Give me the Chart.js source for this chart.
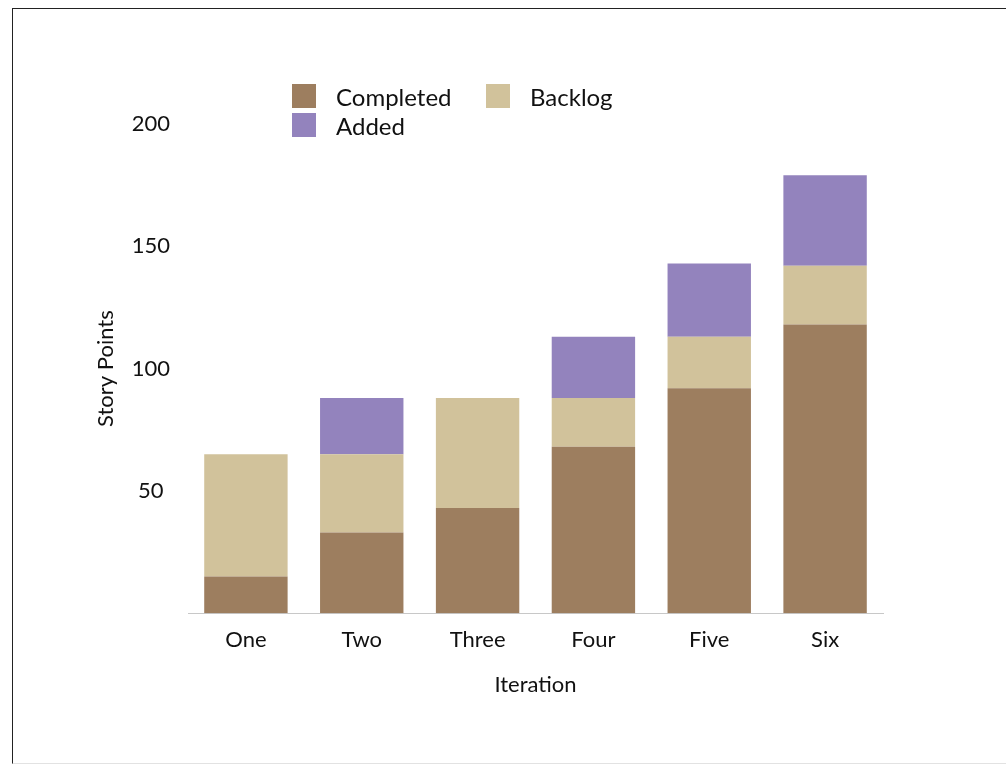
<!DOCTYPE html>
<html>
<head>
<meta charset="utf-8">
<script src="https://cdn.jsdelivr.net/npm/chart.js@4"></script>
<style>
  body { margin: 0; background: #fff; font-family: Lato, sans-serif; }
  #wrap { position: relative; width: 1006px; height: 765px; overflow: hidden; }
  #frame {
    position: absolute; left: 12px; top: 8px; width: 1100px; height: 754px;
    border-left: 1px solid #222; border-top: 1px solid #222; border-bottom: 1px solid #e2e2e2;
  }
  canvas { position: absolute; left: 0; top: 0; }
  #legend {
    position: absolute; left: 292px; top: 84px;
    display: grid; grid-template-columns: 194px 150px; row-gap: 5px;
  }
  .item { display: flex; align-items: center; height: 24px; font-size: 24px; color: #111; }
  .box { width: 24px; height: 24px; margin-right: 20px; flex: none; }
</style>
</head>
<body>
<div id="wrap">
  <div id="frame"></div>
  <canvas id="chart" width="1006" height="765"></canvas>
  <div id="legend"></div>
</div>
<script>
// data
const iterations = ["One", "Two", "Three", "Four", "Five", "Six"];
const completed = [15, 33, 43, 68, 92, 118];
const backlog = [50, 32, 45, 20, 21, 24];
const added = [0, 23, 0, 25, 30, 37];
const yTicks = [50, 100, 150, 200];

const colors = {
  completed: "#9d7e5f",
  backlog: "#d1c29b",
  added: "#9383bd",
};

const ctx = document.getElementById("chart").getContext("2d");
const chart = new Chart(ctx, {
  type: "bar",
  data: {
    labels: iterations,
    datasets: [
      { label: "Completed", data: completed, backgroundColor: colors.completed },
      { label: "Backlog", data: backlog, backgroundColor: colors.backlog },
      { label: "Added", data: added, backgroundColor: colors.added },
    ],
  },
  options: {
    responsive: false,
    animation: false,
    layout: { padding: { left: 90, right: 123, top: 124, bottom: 67 } },
    datasets: { bar: { barPercentage: 0.72, categoryPercentage: 1 } },
    plugins: { legend: { display: false }, tooltip: { enabled: false } },
    scales: {
      x: {
        stacked: true,
        grid: { display: false, drawTicks: false },
        border: { display: true, color: "#c8c8c8", width: 1 },
        ticks: { color: "#111", font: { family: "Lato", size: 22 }, padding: 14 },
        title: {
          display: true, text: "Iteration", color: "#111",
          font: { family: "Lato", size: 22 }, padding: { top: 4, bottom: 0 },
        },
      },
      y: {
        stacked: true,
        min: 0,
        max: 200,
        afterFit: (scale) => { scale.width = 98; },
        afterBuildTicks: (scale) => {
          scale.ticks = yTicks.map((v) => ({ value: v }));
        },
        grid: { display: false, drawTicks: false },
        border: { display: false },
        ticks: {
          color: "#111", font: { family: "Lato", size: 22 }, padding: 18,
          crossAlign: "center",
        },
        title: {
          display: true, text: "Story Points", color: "#111",
          font: { family: "Lato", size: 22 }, padding: { top: 3, bottom: 0 },
        },
      },
    },
  },
});

// legend dua kolom, dibangun dari dataset
const legendEl = document.getElementById("legend");
chart.data.datasets.forEach((ds) => {
  const item = document.createElement("div");
  item.className = "item";
  const box = document.createElement("span");
  box.className = "box";
  box.style.background = ds.backgroundColor;
  const txt = document.createElement("span");
  txt.textContent = ds.label;
  item.appendChild(box);
  item.appendChild(txt);
  legendEl.appendChild(item);
});
</script>
</body>
</html>
